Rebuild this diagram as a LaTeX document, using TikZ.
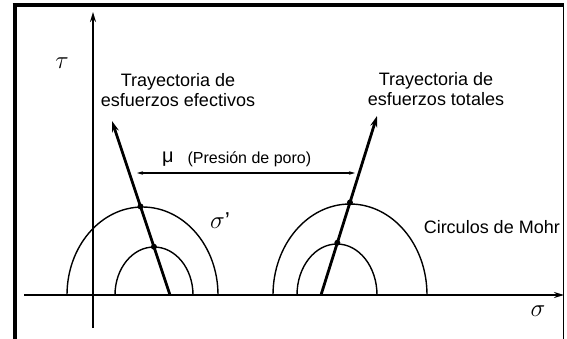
\documentclass[tikz,border=0pt]{standalone}
\usepackage{fontspec}
\setmainfont{Liberation Sans}
\usetikzlibrary{arrows.meta}

\begin{document}
\begin{tikzpicture}[x=1pt,y=-1pt,>=Stealth,
    eje/.style={line width=1.6pt},
    mohr/.style={line width=1.4pt},
    trayecto/.style={line width=2.8pt,-{Stealth[length=11pt,width=7pt]}},
    punto/.style={circle,fill,inner sep=0pt,minimum size=6pt},
    etiq/.style={font=\fontsize{18}{20}\selectfont,align=center}]
    \useasboundingbox (0,0) rectangle (567,339);
    % marco
    \draw[line width=4pt] (12.5,5.5) -- (564,5.5);
    \draw[line width=4pt] (14.5,4) -- (14.5,339);
    \draw[line width=1.2pt] (563.5,4) -- (563.5,339);
    % ejes
    \coordinate (s0) at (24,295);
    \coordinate (s1) at (564,295);
    \coordinate (t0) at (93,328);
    \coordinate (t1) at (93,12);
    \draw[eje,-{Stealth[length=10pt,width=6pt]}] (s0) -- (s1);
    \draw[eje,-{Stealth[length=10pt,width=6pt]}] (t0) -- (t1);
    \node[font=\fontsize{23}{23}\selectfont] (tau) at (62,63) {$\tau$};
    \node[font=\fontsize{23}{23}\selectfont] (sigma) at (538,311) {$\sigma$};
    % circulos de Mohr
    \foreach \cx/\rx/\ry in {142.5/75.5/88, 154/39/48, 350/77/91, 337/40/51}
    	\draw[mohr] (\cx-\rx,295) arc[start angle=180,end angle=360,x radius=\rx,y radius=\ry];
    \node[font=\fontsize{23}{23}\selectfont] (sigp) at (220,221) {$\sigma$’};
    \node[etiq,anchor=east,inner sep=0pt] (mohrtxt) at (560,227) {Circulos de Mohr};
    % trayectorias
    \coordinate (ef0) at (170,295);
    \coordinate (ef1) at (112,121);
    \draw[trayecto] (ef0) -- (ef1) node[pos=0.509,punto] (efg) {} node[pos=0.2775,punto] (efp) {};
    \coordinate (to0) at (321,295);
    \coordinate (to1) at (377,116);
    \draw[trayecto] (to0) -- (to1) node[pos=0.517,punto] (tog) {} node[pos=0.292,punto] (top) {};
    \node[etiq] (efec) at (178,90) {Trayectoria de\\esfuerzos efectivos};
    \node[etiq] (tot) at (436,89) {Trayectoria de\\esfuerzos totales};
    % presion de poro
    \coordinate (mu0) at (137,173);
    \coordinate (mu1) at (355,173);
    \draw[line width=1.2pt,{Stealth[length=6pt,width=3.5pt]}-{Stealth[length=6pt,width=3.5pt]}] (mu0) -- (mu1);
    \node[font=\fontsize{20}{20}\selectfont] (mu) at (168,159) {μ};
    \node[font=\fontsize{16}{16}\selectfont,anchor=west] (poro) at (184,159) {(Presión de poro)};
\end{tikzpicture}
\end{document}
